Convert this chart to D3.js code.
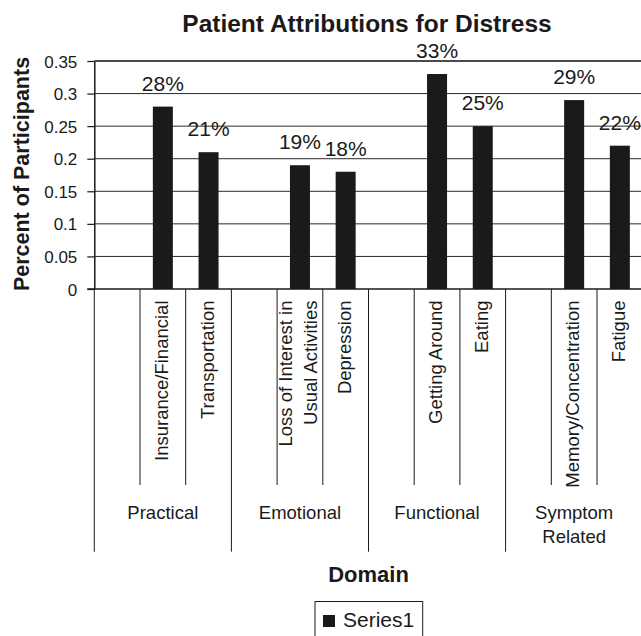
<!DOCTYPE html>
<html>
<head>
<meta charset="utf-8">
<script src="https://cdn.jsdelivr.net/npm/d3@7"></script>
<style>
  body { margin: 0; background: #fff; }
  svg { display: block; }
  text { font-family: "Liberation Sans", Arial, Helvetica, sans-serif; fill: #1a1a1a; }
</style>
</head>
<body>
<svg id="chart" width="641" height="636"></svg>
<script>
// Domains, each spanning three category slots (a blank slot, then two items)
const domains = ["Practical", "Emotional", "Functional", "Symptom\nRelated"];
const subcategories = [
  "", "Insurance/Financial", "Transportation",
  "", "Loss of Interest in\nUsual Activities", "Depression",
  "", "Getting Around", "Eating",
  "", "Memory/Concentration", "Fatigue"
];
const values = [null, 0.28, 0.21, null, 0.19, 0.18, null, 0.33, 0.25, null, 0.29, 0.22];
const yTicks = [0, 0.05, 0.1, 0.15, 0.2, 0.25, 0.3, 0.35];
const seriesName = "Series1";

const title = "Patient Attributions for Distress";
const yTitle = "Percent of Participants";
const xTitle = "Domain";

const ink = "#1a1a1a";
const svg = d3.select("#chart");

const plotLeft = 94.3, plotRight = 642.7, plotTop = 61, plotBottom = 289;
const slots = d3.range(subcategories.length);

const x = d3.scaleBand().domain(slots).range([plotLeft, plotRight]).padding(0);
const y = d3.scaleLinear().domain([0, 0.35]).range([plotBottom, plotTop]);
const pct = d3.format(".0%");

// Horizontal gridlines
svg.append("g").selectAll("line")
  .data(yTicks.filter(t => t > 0))
  .join("line")
  .attr("x1", plotLeft).attr("x2", plotRight + 2)
  .attr("y1", d => y(d)).attr("y2", d => y(d))
  .attr("stroke", d => d === 0.35 ? "#111" : "#2a2a2a")
  .attr("stroke-width", d => d === 0.35 ? 1.6 : 1);

// Value axis
const yAxis = svg.append("g")
  .attr("transform", `translate(${plotLeft},0)`)
  .call(d3.axisLeft(y).tickValues(yTicks).tickSize(7).tickSizeOuter(0).tickPadding(10)
    .tickFormat(d => String(+d.toFixed(2))));
yAxis.select(".domain").attr("stroke", ink).attr("stroke-width", 1.5);
yAxis.selectAll(".tick line").attr("stroke", ink).attr("stroke-width", 1.2);
yAxis.selectAll(".tick text")
  .style("font-size", "17px").attr("fill", ink).attr("dy", "0.36em");

// Bars
svg.append("g").selectAll("rect")
  .data(slots.filter(i => values[i] != null))
  .join("rect")
  .attr("x", i => x(i) + x.bandwidth() / 2 - 10)
  .attr("width", 20)
  .attr("y", i => y(values[i]))
  .attr("height", i => y(0) - y(values[i]))
  .attr("fill", ink);

// Value labels
svg.append("g").selectAll("text")
  .data(slots.filter(i => values[i] != null))
  .join("text")
  .attr("x", i => x(i) + x.bandwidth() / 2)
  .attr("y", i => y(values[i]) - 16)
  .attr("text-anchor", "middle")
  .style("font-size", "21px")
  .text(i => pct(values[i]));

// Category axis line
svg.append("line")
  .attr("x1", plotLeft - 7).attr("x2", plotRight + 2)
  .attr("y1", plotBottom).attr("y2", plotBottom)
  .attr("stroke", ink).attr("stroke-width", 1.6);

// Slot dividers: long at domain boundaries, shorter between items
const boundaries = d3.range(subcategories.length + 1);
svg.append("g").selectAll("line")
  .data(boundaries)
  .join("line")
  .attr("x1", i => plotLeft + i * x.step()).attr("x2", i => plotLeft + i * x.step())
  .attr("y1", plotBottom)
  .attr("y2", i => i % 3 === 0 ? 551.7 : 485)
  .attr("stroke", ink).attr("stroke-width", 1);

// Item labels, rotated
const itemG = svg.append("g");
slots.forEach(i => {
  if (!subcategories[i]) return;
  const lines = subcategories[i].split("\n");
  const cx = x(i) + x.bandwidth() / 2;
  lines.forEach((ln, k) => {
    const off = 5 + (k - (lines.length - 1) / 2) * 25;
    itemG.append("text")
      .attr("transform", `translate(${cx + off},300.5) rotate(-90)`)
      .attr("text-anchor", "end")
      .style("font-size", "18.5px")
      .text(ln);
  });
});

// Domain labels
const domG = svg.append("g");
domains.forEach((d, j) => {
  const cx = plotLeft + (j * 3 + 1.5) * x.step();
  d.split("\n").forEach((ln, k) => {
    domG.append("text")
      .attr("x", cx).attr("y", 518.5 + k * 24.5)
      .attr("text-anchor", "middle")
      .style("font-size", "18.5px")
      .text(ln);
  });
});

// Titles
svg.append("text")
  .attr("x", 367).attr("y", 31.5)
  .attr("text-anchor", "middle")
  .style("font-size", "24.5px").style("font-weight", "bold")
  .text(title);

svg.append("text")
  .attr("transform", "translate(28.5,174) rotate(-90)")
  .attr("text-anchor", "middle")
  .style("font-size", "21.5px").style("font-weight", "bold")
  .text(yTitle);

svg.append("text")
  .attr("x", 368.5).attr("y", 581.5)
  .attr("text-anchor", "middle")
  .style("font-size", "22px").style("font-weight", "bold")
  .text(xTitle);

// Legend
const legend = svg.append("g");
legend.append("rect")
  .attr("x", 315).attr("y", 601.5).attr("width", 107.7).attr("height", 45)
  .attr("fill", "none").attr("stroke", ink).attr("stroke-width", 1);
legend.append("rect")
  .attr("x", 323).attr("y", 615).attr("width", 12).attr("height", 12)
  .attr("fill", ink);
legend.append("text")
  .attr("x", 343).attr("y", 626.7)
  .style("font-size", "21px")
  .text(seriesName);
</script>
</body>
</html>
